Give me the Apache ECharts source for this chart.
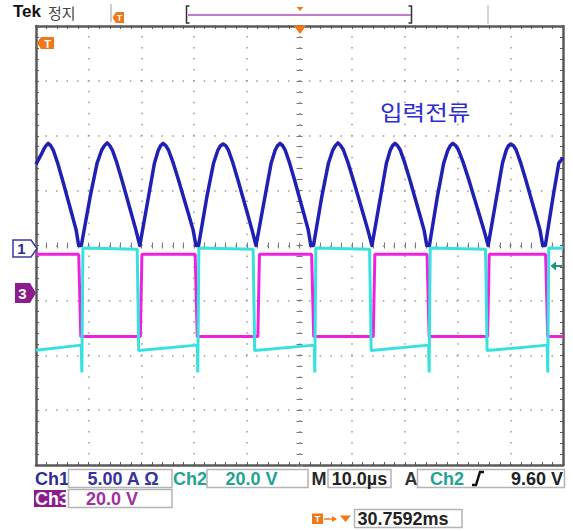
<!DOCTYPE html>
<html><head><meta charset="utf-8">
<script src="https://cdn.jsdelivr.net/npm/echarts@6/dist/echarts.min.js"></script>
<style>html,body{margin:0;padding:0;background:#fff}#c{width:573px;height:531px}</style>
</head><body><div id="c"></div>
<script>
// ---- Data (time in µs, trigger at 0; Ch1 in A; Ch2/Ch3 in V) ----
const ch1Current = [
  [-50,7.4],[-49.0,8.3],[-48.5,8.8],[-48.1,9.1],[-47.7,9.3],
  [-47.22,9.1],[-46.73,8.7],[-45.88,7.5],[-44.98,6.0],[-44.07,4.4],[-43.16,2.8],[-42.38,1.4],[-41.9,0],[-41.4,0],
  [-39.74,4.4],[-38.41,7.5],[-37.53,8.7],[-37.01,9.1],[-36.5,9.35],
  [-36.0,9.1],[-35.51,8.7],[-34.64,7.5],[-33.71,6.0],[-32.78,4.4],[-31.85,2.8],[-31.04,1.4],[-30.3,0],
  [-28.67,4.4],[-27.53,7.5],[-26.78,8.7],[-26.34,9.1],[-25.9,9.3],
  [-25.38,9.1],[-24.86,8.7],[-23.95,7.5],[-22.97,6.0],[-22.0,4.4],[-21.02,2.8],[-20.18,1.4],[-19.65,0],[-19.15,0],
  [-17.59,4.4],[-16.31,7.5],[-15.48,8.7],[-14.99,9.1],[-14.5,9.25],
  [-14.0,9.1],[-13.5,8.7],[-12.62,7.5],[-11.69,6.0],[-10.75,4.4],[-9.81,2.8],[-9.0,1.4],[-8.25,0],
  [-6.57,4.4],[-5.38,7.5],[-4.61,8.7],[-4.15,9.1],[-3.7,9.3],
  [-3.21,9.1],[-2.72,8.7],[-1.87,7.5],[-0.95,6.0],[-0.04,4.4],[0.88,2.8],[1.67,1.4],[2.15,0],[2.65,0],
  [4.21,4.4],[5.49,7.5],[6.32,8.7],[6.81,9.1],[7.3,9.35],
  [7.82,9.1],[8.33,8.7],[9.24,7.5],[10.2,6.0],[11.17,4.4],[12.14,2.8],[12.98,1.4],[13.75,0],
  [15.36,4.4],[16.49,7.5],[17.23,8.7],[17.67,9.1],[18.1,9.3],
  [18.6,9.1],[19.11,8.7],[19.99,7.5],[20.94,6.0],[21.88,4.4],[22.83,2.8],[23.64,1.4],[24.15,0],[24.65,0],
  [26.14,4.4],[27.36,7.5],[28.16,8.7],[28.63,9.1],[29.1,9.3],
  [29.64,9.1],[30.17,8.7],[31.11,7.5],[32.12,6.0],[33.12,4.4],[34.13,2.8],[35.0,1.4],[35.8,0],
  [37.39,4.4],[38.51,7.5],[39.24,8.7],[39.67,9.1],[40.1,9.25],
  [40.6,9.1],[41.11,8.7],[41.99,7.5],[42.94,6.0],[43.88,4.4],[44.83,2.8],[45.64,1.4],[46.15,0],[46.65,0],
  [48.1,4.4],[49.2,7.5],[50,8.0]
];
const ch2Voltage = [
  [-50,-20.9],[-41.4,-19.0],[-41.3,-29.0],[-41.1,16.4],[-30.8,15.9],[-30.5,-21.0],
  [-19.4,-19.0],[-19.3,-29.0],[-19.1,16.4],[-8.8,15.9],[-8.5,-21.0],
  [2.8,-19.0],[2.9,-29.0],[3.1,16.4],[13.3,15.9],[13.6,-21.0],
  [24.5,-19.0],[24.6,-29.0],[24.8,16.4],[35.3,15.9],[35.6,-21.0],
  [47.0,-19.0],[47.1,-29.0],[47.3,16.4],[50,16.3]
];
const ch3Voltage = [
  [-50,14.1],[-41.9,14.1],[-41.5,-15.9],[-30.2,-15.9],[-29.9,14.1],
  [-19.8,14.1],[-19.4,-15.9],[-7.9,-15.9],[-7.6,14.1],
  [2.3,14.1],[2.7,-15.9],[14.0,-15.9],[14.3,14.1],
  [24.2,14.1],[24.6,-15.9],[35.7,-15.9],[36.0,14.1],
  [46.7,14.1],[47.1,-15.9],[50,-15.9]
];
const timeRange = [-50, 50];      // µs (10 divisions × 10 µs)
const ch1Range = [-20, 20];       // A  (8 divisions × 5 A)
const ch23Range = [-62.69, 97.31];// V  (8 divisions × 20 V, ground at marker 3)
const traceLabel = '입력전류';
const statusTexts = { brand: 'Tek', state: '정지' };
const readouts = {
  ch1Name: 'Ch1', ch1Scale: '5.00 A Ω',
  ch2Name: 'Ch2', ch2Scale: '20.0 V',
  ch3Name: 'Ch3', ch3Scale: '20.0 V',
  timeName: 'M', timeScale: '10.0µs',
  trigMode: 'A', trigSrc: 'Ch2', trigLevel: '9.60 V',
  trigPos: '30.7592ms'
};

// ---- Styling ----
const BORDER = '#5a5a5a', DOT = '#9a9a9a';
const ORANGE = '#f07818', TEAL = '#1fa392', PURPLE = '#8c1c8c';
const F = '"Liberation Sans", Arial, sans-serif';
const KR = '"Noto Sans CJK KR", sans-serif';

function borderAxis(pos, isX, split) {
  return {
    type: 'value', position: pos,
    min: isX ? timeRange[0] : ch1Range[0], max: isX ? timeRange[1] : ch1Range[1],
    interval: isX ? 10 : 5,
    axisLine: { show: true, onZero: false, lineStyle: { color: BORDER, width: 2.5 } },
    axisTick: { show: true, inside: true, length: 3, lineStyle: { color: BORDER, width: 1 } },
    minorTick: { show: true, splitNumber: 5, length: 3, lineStyle: { color: BORDER, width: 1 } },
    axisLabel: { show: false },
    splitLine: split ? { show: true, lineStyle: { color: DOT, width: 1.5,
      type: isX ? [1.5, 9.475] : [1.5, 9.04], dashOffset: 0.75 } } : { show: false }
  };
}
function centerAxis(pos, isX) {
  return {
    type: 'value', position: pos,
    min: isX ? timeRange[0] : ch1Range[0], max: isX ? timeRange[1] : ch1Range[1],
    interval: isX ? 10 : 5,
    axisLine: { show: true, onZero: true, onZeroAxisIndex: 0, lineStyle: { color: 'rgba(0,0,0,0)' } },
    axisTick: { show: true, inside: false, length: 3, lineStyle: { color: '#777', width: 1 } },
    minorTick: { show: true, splitNumber: 5, length: 3, lineStyle: { color: '#777', width: 1 } },
    axisLabel: { show: false }, splitLine: { show: false }
  };
}

function T(x, y, text, fill, font, align, extra) {
  return Object.assign({ type: 'text', x: x, y: y, z: 100,
    style: { text: text, fill: fill, font: font, textAlign: align || 'left', textVerticalAlign: 'middle' } }, extra || {});
}
function L(pts, stroke, w) {
  return { type: 'polyline', z: 100, shape: { points: pts }, style: { stroke: stroke, lineWidth: w, fill: null } };
}
function P(pts, fill, stroke, w) {
  return { type: 'polygon', z: 100, shape: { points: pts }, style: { fill: fill, stroke: stroke || null, lineWidth: w || 0 } };
}
function R(x, y, w, h, stroke, fill) {
  return { type: 'rect', z: 100, shape: { x: x, y: y, width: w, height: h },
    style: { stroke: stroke || null, fill: fill || 'rgba(0,0,0,0)', lineWidth: 1.5 } };
}

const BF = 'bold 18px ' + F;
const graphics = [
  T(13, 11.5, statusTexts.brand, '#111', 'bold 17px ' + F),
  T(48, 12, statusTexts.state, '#444', '15px ' + KR),
  L([[111, 4], [111, 22]], '#999', 1),
  P([[112.5, 17.5], [116, 12], [124, 12], [124, 23], [116, 23]], ORANGE),
  T(119.5, 17.5, 'T', '#fff', 'bold 9px ' + F, 'center'),
  L([[189.5, 6], [186.5, 6], [186.5, 23], [189.5, 23]], '#333', 1.5),
  L([[188, 15], [411, 15]], '#b04cc0', 1.5),
  L([[408.5, 6], [411.5, 6], [411.5, 23], [408.5, 23]], '#333', 1.5),
  P([[296.5, 7], [303.5, 7], [300, 11]], ORANGE),
  L([[488, 5], [488, 24]], '#c8c8c8', 1.5),
  P([[293.5, 25.5], [306.5, 25.5], [300, 34]], ORANGE),
  P([[37, 43], [41, 37], [54, 37], [54, 49], [41, 49]], ORANGE),
  T(47.5, 43.5, 'T', '#fff', 'bold 11px ' + F, 'center'),
  P([[13, 240], [31, 240], [37, 248.5], [31, 257], [13, 257]], '#fff', '#3a3aa0', 1.5),
  T(21.5, 248.5, '1', '#2a2a90', 'bold 15px ' + F, 'center'),
  P([[15, 283], [30, 283], [36, 293], [30, 303], [15, 303]], PURPLE),
  T(22.5, 293, '3', '#fff', 'bold 15px ' + F, 'center'),
  L([[554, 266], [562, 266]], '#1a9484', 2),
  P([[550.5, 266], [556, 261.5], [556, 270.5]], '#1a9484'),
  T(380, 111, traceLabel, '#2c2cd0', '21px ' + KR, 'left', { scaleX: 1.17, originX: 0, originY: 0 }),

  // readout row 1
  T(35, 478.5, readouts.ch1Name, '#2e2e8e', BF),
  R(68.5, 469.5, 103.5, 18, '#b4b4b4'),
  T(123, 478.5, readouts.ch1Scale, '#34349a', BF, 'center'),
  T(173, 478.5, readouts.ch2Name, TEAL, BF),
  R(207, 469.5, 101, 18, '#b4b4b4'),
  T(251.5, 478.5, readouts.ch2Scale, TEAL, BF, 'center'),
  T(311.5, 478.5, readouts.timeName, '#2a2a2a', BF),
  R(328, 469.5, 63, 18, '#b4b4b4'),
  T(359.5, 478.5, readouts.timeScale, '#222', BF, 'center'),
  T(404.5, 478.5, readouts.trigMode, '#333', BF),
  R(417.5, 469.5, 147, 18, '#b4b4b4'),
  T(430, 478.5, readouts.trigSrc, TEAL, BF),
  L([[472, 485], [476, 485], [480, 472], [484, 472]], '#111', 2.5),
  T(563, 478.5, readouts.trigLevel, '#222', BF, 'right'),
  // row 2
  R(34, 490, 32, 17, null, PURPLE),
  T(35, 498.5, readouts.ch3Name, '#fff', BF),
  R(68.5, 489.5, 103.5, 18, '#b4b4b4'),
  T(112, 498.5, readouts.ch3Scale, '#a030a0', BF, 'center'),
  // row 3
  P([[312, 513.5], [323, 513.5], [323, 524], [312, 524]], ORANGE),
  T(317.5, 519, 'T', '#fff', 'bold 9px ' + F, 'center'),
  L([[324, 519], [336, 519]], ORANGE, 1.5),
  P([[332, 516], [337, 519], [332, 522]], ORANGE),
  P([[340, 515.5], [351, 515.5], [345.5, 522]], ORANGE),
  R(354.5, 509.5, 107.5, 18, '#b4b4b4'),
  T(357.5, 518.5, readouts.trigPos, '#222', BF)
];

const chart = echarts.init(document.getElementById('c'), null, { renderer: 'svg' });
chart.setOption({
  animation: false,
  backgroundColor: '#ffffff',
  grid: { left: 36, top: 26, width: 527, height: 439, containLabel: false, outerBoundsMode: 'none' },
  xAxis: [
    borderAxis('bottom', true, true),
    borderAxis('top', true, false),
    centerAxis('bottom', true),
    centerAxis('top', true)
  ],
  yAxis: [
    borderAxis('left', false, true),
    borderAxis('right', false, false),
    centerAxis('left', false),
    centerAxis('right', false),
    { type: 'value', show: false, min: ch23Range[0], max: ch23Range[1] }
  ],
  series: [
    { name: 'Ch3', type: 'line', xAxisIndex: 0, yAxisIndex: 4, data: ch3Voltage, showSymbol: false,
      lineStyle: { color: '#ee22dd', width: 3 }, z: 3 },
    { name: 'Ch2', type: 'line', xAxisIndex: 0, yAxisIndex: 4, data: ch2Voltage, showSymbol: false,
      lineStyle: { color: '#38e0e0', width: 3 }, z: 4 },
    { name: 'Ch1', type: 'line', xAxisIndex: 0, yAxisIndex: 0, data: ch1Current, showSymbol: false,
      smooth: false, lineStyle: { color: '#2020b4', width: 3.5, join: 'round' }, z: 5 }
  ],
  graphic: graphics
});
</script></body></html>
